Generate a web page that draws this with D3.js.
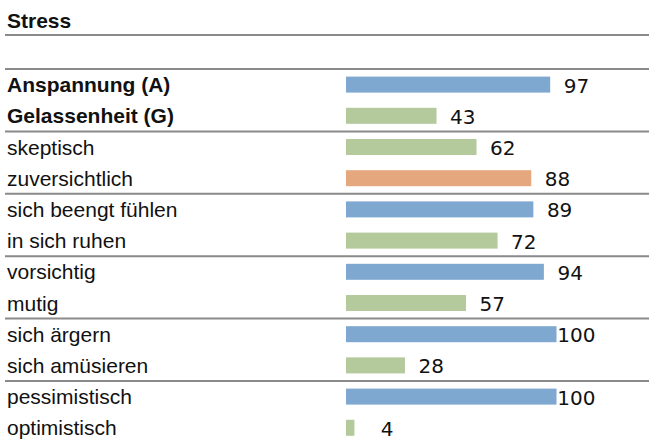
<!DOCTYPE html>
<html>
<head>
<meta charset="utf-8">
<script src="https://cdn.jsdelivr.net/npm/d3@7"></script>
<style>
  body { margin: 0; background: #fff; }
  svg { display: block; }
  .label { font-family: "Liberation Sans", Arial, sans-serif; font-size: 21px; fill: #111; }
  .label.bold { font-weight: bold; }
  .value { font-family: "DejaVu Sans", sans-serif; font-size: 20px; fill: #111; }
</style>
</head>
<body>
<div id="chart"></div>
<script>
// chart data
var title = "Stress";
var labels = ["Anspannung (A)", "Gelassenheit (G)", "skeptisch", "zuversichtlich",
  "sich beengt fühlen", "in sich ruhen", "vorsichtig", "mutig",
  "sich ärgern", "sich amüsieren", "pessimistisch", "optimistisch"];
var values = [97, 43, 62, 88, 89, 72, 94, 57, 100, 28, 100, 4];
var kinds = ["A", "G", "G", "O", "A", "G", "A", "G", "A", "G", "A", "G"];
var boldRows = [0, 1];

(function() {
  var width = 649, height = 439;
  var colors = { A: "#7ea8cf", G: "#b4c99c", O: "#e4a77e" };

  var svg = d3.select("#chart").append("svg")
    .attr("width", width)
    .attr("height", height);

  // rows fill downwards from the second rule
  var y = d3.scaleBand()
    .domain(d3.range(labels.length))
    .range([69, 69 + 31.2 * labels.length])
    .paddingInner(0.49)
    .paddingOuter(0.245);

  var step = y.step();
  var rowTop = function(i) { return 69 + i * step; };
  var center = function(i) { return rowTop(i) + step / 2; };

  var x = d3.scaleLinear()
    .domain([0, 100])
    .range([346, 556.5]);

  // title and rules
  svg.append("text")
    .attr("class", "label bold")
    .attr("x", 7)
    .attr("y", 28)
    .text(title);

  svg.append("line")
    .attr("x1", 5).attr("x2", width)
    .attr("y1", 35).attr("y2", 35)
    .attr("stroke", "#8a8a8a")
    .attr("stroke-width", 2);

  var rules = d3.range(0, labels.length, 2);
  svg.selectAll("line.rule")
    .data(rules)
    .enter()
    .append("line")
    .attr("class", "rule")
    .attr("x1", 5).attr("x2", width)
    .attr("y1", function(i) { return rowTop(i); })
    .attr("y2", function(i) { return rowTop(i); })
    .attr("stroke", "#8a8a8a")
    .attr("stroke-width", 2);

  // row labels
  svg.selectAll("text.row")
    .data(labels)
    .enter()
    .append("text")
    .attr("class", function(d, i) { return boldRows.indexOf(i) >= 0 ? "label bold row" : "label row"; })
    .attr("x", 7)
    .attr("y", function(d, i) { return center(i) + 7.5; })
    .text(function(d) { return d; });

  // bars
  svg.selectAll("rect.bar")
    .data(values)
    .enter()
    .append("rect")
    .attr("class", "bar")
    .attr("x", x(0))
    .attr("y", function(d, i) { return center(i) - 8; })
    .attr("width", function(d) { return x(d) - x(0); })
    .attr("height", 16)
    .attr("fill", function(d, i) { return colors[kinds[i]]; });

  // values, right aligned like a three digit field
  svg.selectAll("text.value")
    .data(values)
    .enter()
    .append("text")
    .attr("class", "value")
    .attr("text-anchor", "end")
    .attr("x", function(d) { return x(d) + 39; })
    .attr("y", function(d, i) { return center(i) + 8; })
    .text(function(d) { return d; });
})();
</script>
</body>
</html>
